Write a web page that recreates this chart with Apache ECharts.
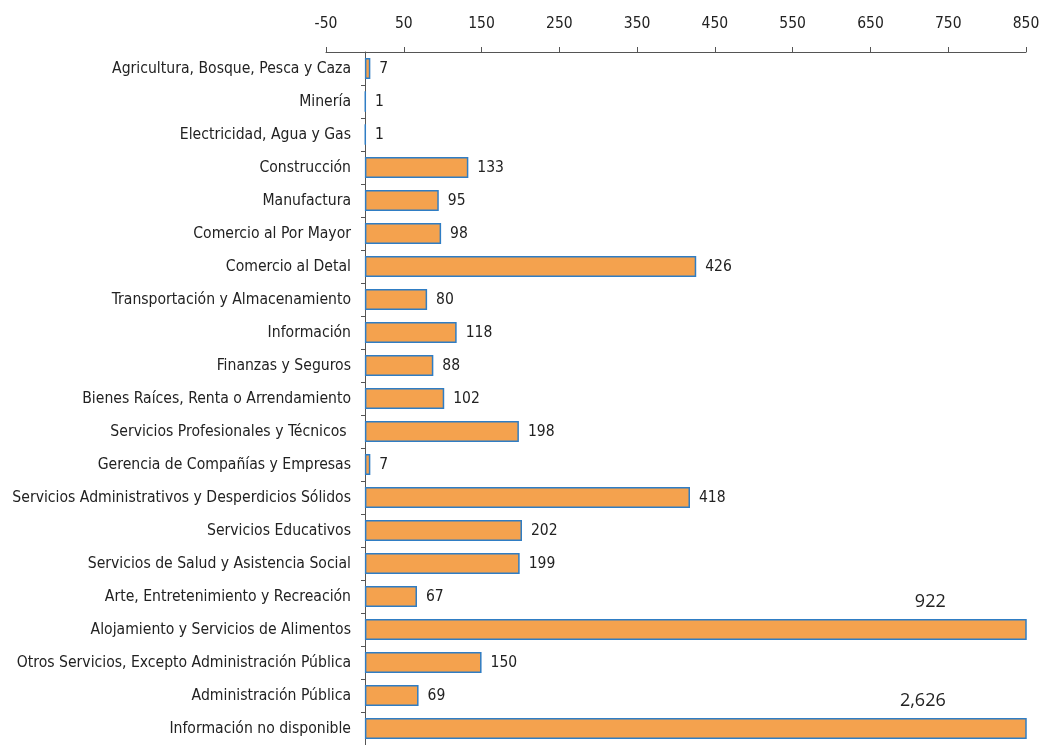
<!DOCTYPE html>
<html>
<head>
<meta charset="utf-8">
<script src="https://cdn.jsdelivr.net/npm/echarts@6/dist/echarts.min.js"></script>
<style>html,body{margin:0;padding:0;background:#fff;}#c{width:1047px;height:745px;}</style>
</head>
<body>
<div id="c"></div>
<script>
const categories = [
  "Agricultura, Bosque, Pesca y Caza",
  "Minería",
  "Electricidad, Agua y Gas",
  "Construcción",
  "Manufactura",
  "Comercio al Por Mayor",
  "Comercio al Detal",
  "Transportación y Almacenamiento",
  "Información",
  "Finanzas y Seguros",
  "Bienes Raíces, Renta o Arrendamiento",
  "Servicios Profesionales y Técnicos ",
  "Gerencia de Compañías y Empresas",
  "Servicios Administrativos y Desperdicios Sólidos",
  "Servicios Educativos",
  "Servicios de Salud y Asistencia Social",
  "Arte, Entretenimiento y Recreación",
  "Alojamiento y Servicios de Alimentos",
  "Otros Servicios, Excepto Administración Pública",
  "Administración Pública",
  "Información no disponible"
];
const values = [7, 1, 1, 133, 95, 98, 426, 80, 118, 88, 102, 198, 7, 418, 202, 199, 67, 922, 150, 69, 2626];
const axisMin = -50, axisMax = 850, axisStep = 100;

const FONT = '"Liberation Sans Narrow", "DejaVu Sans Condensed", "Arial Narrow", sans-serif';
const chart = echarts.init(document.getElementById('c'), null, {renderer: 'canvas'});

const gridLeft = 326, gridRight = 21;
const plotW = 1047 - gridLeft - gridRight;
const zeroShift = Math.round((0 - axisMin) / (axisMax - axisMin) * plotW);

const data = values.map(v => {
  const d = {value: v};
  if (v > axisMax) {
    d.label = {
      position: 'insideRight',
      offset: [-72, -28],
      fontFamily: '"Open Sans", "Noto Sans", sans-serif',
      fontSize: 18,
      formatter: p => p.value.toLocaleString('en-US')
    };
  }
  return d;
});

chart.setOption({
  animation: false,
  grid: {left: gridLeft, right: gridRight, top: 52, height: 693, containLabel: false, outerBoundsMode: 'none'},
  xAxis: {
    type: 'value', position: 'top',
    min: axisMin, max: axisMax, interval: axisStep,
    axisLine: {show: true, lineStyle: {color: '#555', width: 1}},
    axisTick: {show: true, length: 5, lineStyle: {color: '#555'}},
    splitLine: {show: false},
    axisLabel: {fontFamily: FONT, fontSize: 15.5, color: '#222', margin: 20}
  },
  yAxis: {
    type: 'category', inverse: true, data: categories,
    offset: -zeroShift,
    axisLine: {show: true, onZero: false, lineStyle: {color: '#555', width: 1}},
    axisTick: {show: true, length: 4, lineStyle: {color: '#555'}},
    axisLabel: {fontFamily: FONT, fontSize: 15.6, color: '#222', margin: 14}
  },
  series: [{
    type: 'bar',
    data: data,
    barWidth: '64%',
    clip: true,
    itemStyle: {color: '#F4A24E', borderColor: '#2F7DC4', borderWidth: 1.5},
    label: {
      show: true, position: 'right', distance: 9,
      fontFamily: FONT, fontSize: 15.5, color: '#222',
      formatter: p => p.value.toLocaleString('en-US')
    }
  }]
});
</script>
</body>
</html>
